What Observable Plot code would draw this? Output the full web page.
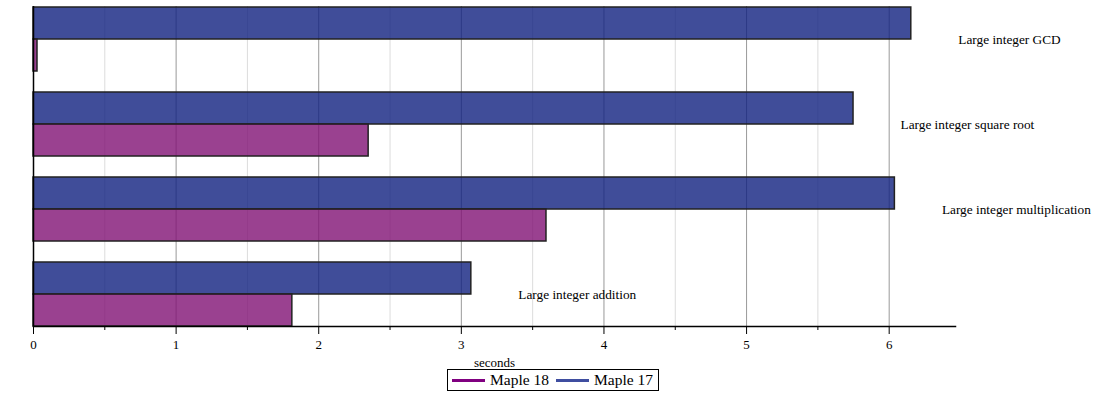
<!DOCTYPE html>
<html>
<head>
<meta charset="utf-8">
<script src="https://cdn.jsdelivr.net/npm/d3@7"></script>
<script src="https://cdn.jsdelivr.net/npm/@observablehq/plot@0.6"></script>
<style>
  html, body { margin: 0; padding: 0; background: #fff; }
  body { width: 1106px; font-family: "Liberation Serif", "Times New Roman", serif; }
  #chart svg { display: block; }
  #chart svg, #chart svg text { font-family: "Liberation Serif", "Times New Roman", serif !important; }
  .legend { display: flex; justify-content: center; margin-top: 1px; }
  .legend .box { display: inline-flex; align-items: center; border: 1px solid #000; height: 20px; padding: 0 5px 0 4px; font-size: 15.5px; }
  .legend .sw { display: inline-block; width: 33px; height: 3px; margin-right: 5px; }
  .legend .item { display: inline-flex; align-items: center; }
  .legend .item + .item { margin-left: 7px; }
</style>
</head>
<body>
<div id="chart"></div>
<div class="legend"><div class="box" id="legend"></div></div>
<script>
const categories = ["Large integer GCD", "Large integer square root", "Large integer multiplication", "Large integer addition"];
const maple17 = [6.155, 5.75, 6.04, 3.07];
const maple18 = [0.028, 2.35, 3.597, 1.815];
const seriesNames = ["Maple 18", "Maple 17"];
const seriesColors = ["#800080", "#3f4ea0"];
const barFills = ["#811274", "#102080"];
const majorTicks = [0, 1, 2, 3, 4, 5, 6];
const minorTicks = [0.5, 1.5, 2.5, 3.5, 4.5, 5.5];
const xMax = 6.465;

const d17 = categories.map((c, i) => ({cat: c, value: maple17[i]}));
const d18 = categories.map((c, i) => ({cat: c, value: maple18[i]}));

const chart = Plot.plot({
  width: 1106,
  height: 368,
  marginLeft: 33,
  marginRight: 151,
  marginTop: 6,
  marginBottom: 42,
  style: {fontFamily: "Liberation Serif, serif", fontSize: "13px", color: "#000", background: "#fff"},
  x: {domain: [0, xMax]},
  y: {domain: categories, paddingInner: 0.25, paddingOuter: 0, axis: null},
  marks: [
    Plot.gridX(minorTicks, {stroke: "#dcdcdc", strokeOpacity: 1}),
    Plot.gridX(majorTicks.slice(1), {stroke: "#999", strokeOpacity: 1}),
    Plot.barX(d17, {y: "cat", x: "value", insetBottom: 32, fill: barFills[1], fillOpacity: 0.8, stroke: "#222", strokeWidth: 1.5}),
    Plot.barX(d18, {y: "cat", x: "value", insetTop: 32, fill: barFills[0], fillOpacity: 0.8, stroke: "#222", strokeWidth: 1.5}),
    Plot.ruleX([0], {stroke: "#000", strokeWidth: 1.5}),
    Plot.frame({anchor: "bottom", stroke: "#000", strokeWidth: 1.5}),
    Plot.axisX({ticks: minorTicks, tickSize: 4, tickFormat: () => "", label: null}),
    Plot.axisX({ticks: majorTicks, tickSize: 8, tickPadding: 5, tickFormat: d => String(d), label: "seconds", labelAnchor: "center", labelArrow: "none", labelOffset: 40, fill: "#000", stroke: "#000", fontSize: 13}),
    Plot.text(d17, {x: "value", y: "cat", text: "cat", dx: 47, textAnchor: "start", fill: "#000", fontSize: 13.3})
  ]
});
document.getElementById("chart").appendChild(chart);

const legend = document.getElementById("legend");
seriesNames.forEach((name, i) => {
  const item = document.createElement("span");
  item.className = "item";
  const sw = document.createElement("span");
  sw.className = "sw";
  sw.style.background = seriesColors[i];
  item.appendChild(sw);
  item.appendChild(document.createTextNode(name));
  legend.appendChild(item);
});
</script>
</body>
</html>
